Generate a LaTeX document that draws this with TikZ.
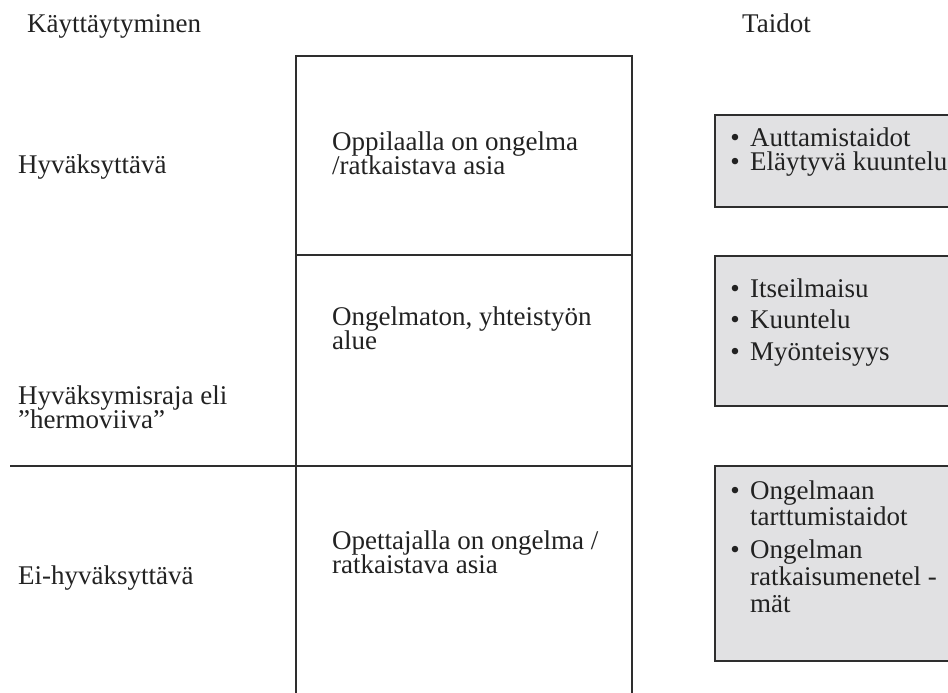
\documentclass[tikz,border=0pt]{standalone}
\usepackage{fontspec}
\setmainfont{Liberation Serif}
\definecolor{ink}{HTML}{222222}
\definecolor{rule}{HTML}{2E2E2E}
\definecolor{boxfill}{HTML}{E1E1E3}
% text size with a fixed line pitch (lines may sit tighter than the glyphs)
\newcommand{\txtsize}[1]{\fontsize{27}{#1}\selectfont\lineskiplimit=-\maxdimen}
% bullet hanging to the left of an item
\newcommand{\itm}{\llap{•\hspace{10.5pt}}}
\tikzset{
  txt/.style={anchor=base west, inner sep=0pt, text=ink, align=left,
              font=\txtsize{24}},
  grid/.style={draw=rule, line width=1.8pt},
  skillbox/.style={draw=rule, line width=1.8pt, fill=boxfill,
                   minimum width=260pt, anchor=north west, inner sep=0pt}
}
\begin{document}
\begin{tikzpicture}[x=1pt,y=-1pt]
\clip (0,0) rectangle (948,693);
\fill[white] (0,0) rectangle (948,693);

% column headings
\node[txt] (hkay) at (27,33) {Käyttäytyminen};
\node[txt] (htai) at (742,33) {Taidot};

% central column with its frame
\coordinate (ctl) at (296,56);
\coordinate (ctr) at (632,56);
\coordinate (cbl) at (296,700);
\coordinate (cbr) at (632,700);
\coordinate (m1l) at (296,255);
\coordinate (m1r) at (632,255);
\coordinate (m2l) at (10,466);
\coordinate (m2r) at (632,466);
\draw[grid] (cbl) -- (ctl) -- (ctr) -- (cbr);
\draw[grid] (m1l) -- (m1r);
\draw[grid] (m2l) -- (m2r);

% behaviour labels on the left (anchored at the last line's baseline)
\node[txt] (lh1) at (18,173) {Hyväksyttävä};
\node[txt] (lr1) at (18,428) {Hyväksymisraja eli\\”hermoviiva”};
\node[txt] (le1) at (18,584) {Ei-hyväksyttävä};

% zones of the central column
\node[txt] (c1) at (332,174) {Oppilaalla on ongelma\\/ratkaistava asia};
\node[txt] (c2) at (332,349) {Ongelmaton, yhteistyön\\alue};
\node[txt] (c3) at (332,573) {Opettajalla on ongelma /\\ratkaistava asia};

% skill boxes on the right
\node[skillbox, line width=2.3pt, minimum height=92pt] (b1) at (714,114) {};
\node[skillbox, minimum height=150pt] (b2) at (714,255) {};
\node[skillbox, minimum height=195pt] (b3) at (714,465) {};

\node[txt] (s1) at (750,170) {\itm Auttamistaidot\\\itm Eläytyvä kuuntelu};
\node[txt, font=\txtsize{31.5}] (s2) at (750,360)
  {\itm Itseilmaisu\\\itm Kuuntelu\\\itm Myönteisyys};
\node[txt, font=\txtsize{26}] (s31) at (750,525) {\itm Ongelmaan\\tarttumistaidot};
\node[txt, font=\txtsize{27}] (s33) at (750,612) {\itm Ongelman\\ratkaisumenetel -\\mät};
\end{tikzpicture}
\end{document}
